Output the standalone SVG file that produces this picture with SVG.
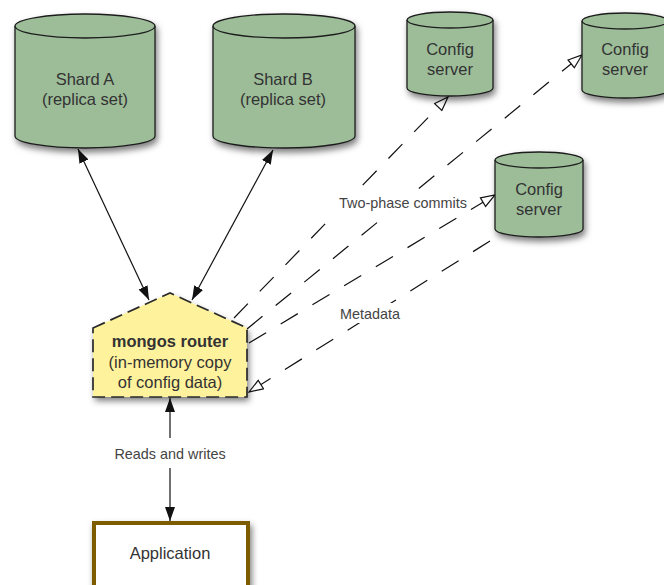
<svg xmlns="http://www.w3.org/2000/svg" width="664" height="585" viewBox="0 0 664 585">
  <style>
    .cyl { fill: #9dbd99; stroke: #1e1e1e; stroke-width: 1.3; }
    .rim { fill: none; stroke: #1e1e1e; stroke-width: 1.3; }
    .ntext { font-family: "Liberation Sans", Arial, sans-serif; font-size: 16.5px; fill: #333; text-anchor: middle; }
    .lbl { font-family: "Liberation Sans", Arial, sans-serif; font-size: 14.4px; fill: #444; text-anchor: middle; }
    .solid { stroke: #111; stroke-width: 1.2; fill: none; }
    .dash { stroke: #111; stroke-width: 1.2; fill: none; stroke-dasharray: 20 17; }
    .lblbg { fill: #fff; }
  </style>
  <defs>
    <filter id="shadow" x="-20%" y="-20%" width="150%" height="150%">
      <feDropShadow dx="2" dy="4" stdDeviation="3" flood-color="#000" flood-opacity="0.5"/>
    </filter>
    <marker id="solidHead" viewBox="0 0 14 10" refX="14" refY="5" markerWidth="14" markerHeight="10" markerUnits="userSpaceOnUse" orient="auto-start-reverse">
      <path d="M0,0 L14,5 L0,10 Z" fill="#111"/>
    </marker>
    <marker id="openHead" viewBox="0 0 16 12" refX="15" refY="6" markerWidth="16" markerHeight="12" markerUnits="userSpaceOnUse" orient="auto">
      <path d="M1,1 L15,6 L1,11 Z" fill="#fff" stroke="#111" stroke-width="1.2"/>
    </marker>
  </defs>

  <!-- connectors -->
  <g id="connectors">
    <!-- shards <-> router -->
    <line class="solid" x1="78" y1="149" x2="149" y2="300" marker-start="url(#solidHead)" marker-end="url(#solidHead)"/>
    <line class="solid" x1="273" y1="150" x2="192" y2="300" marker-start="url(#solidHead)" marker-end="url(#solidHead)"/>
    <!-- two-phase commits to config servers -->
    <line class="dash" x1="234" y1="318" x2="448" y2="97" marker-end="url(#openHead)"/>
    <line class="dash" x1="247" y1="329" x2="582" y2="55" marker-end="url(#openHead)"/>
    <line class="dash" x1="249" y1="343" x2="495" y2="195" marker-end="url(#openHead)"/>
    <!-- metadata back to router -->
    <line class="dash" x1="490" y1="241" x2="249" y2="392" marker-end="url(#openHead)"/>
    <!-- router <-> application -->
    <line class="solid" x1="170" y1="398" x2="170" y2="438" marker-start="url(#solidHead)"/>
    <line class="solid" x1="170" y1="468" x2="170" y2="521" marker-end="url(#solidHead)"/>
    <!-- labels -->
    <rect class="lblbg" x="336" y="192" width="134" height="20"/>
    <text class="lbl" x="403" y="208">Two-phase commits</text>
    <rect class="lblbg" x="337" y="303" width="66" height="20"/>
    <text class="lbl" x="370" y="319">Metadata</text>
    <text class="lbl" x="170" y="459">Reads and writes</text>
  </g>

  <!-- Shard A -->
  <g id="shardA">
    <path class="cyl" filter="url(#shadow)" d="M15,26 A70,12 0 0 1 155,26 L155,136 A70,12 0 0 1 15,136 Z"/>
    <path class="rim" d="M15,26 A70,12 0 0 0 155,26"/>
    <text class="ntext" x="85" y="85">Shard A</text>
    <text class="ntext" x="85" y="105">(replica set)</text>
  </g>

  <!-- Shard B -->
  <g id="shardB">
    <path class="cyl" filter="url(#shadow)" d="M213,26 A71,12 0 0 1 355,26 L355,136 A71,12 0 0 1 213,136 Z"/>
    <path class="rim" d="M213,26 A71,12 0 0 0 355,26"/>
    <text class="ntext" x="283" y="85">Shard B</text>
    <text class="ntext" x="283" y="105">(replica set)</text>
  </g>

  <!-- Config server 1 -->
  <g id="config1">
    <path class="cyl" filter="url(#shadow)" d="M407,20 A43,8 0 0 1 493,20 L493,88 A43,8 0 0 1 407,88 Z"/>
    <path class="rim" d="M407,20 A43,8 0 0 0 493,20"/>
    <text class="ntext" x="450" y="55">Config</text>
    <text class="ntext" x="450" y="75">server</text>
  </g>

  <!-- Config server 2 -->
  <g id="config2">
    <path class="cyl" filter="url(#shadow)" d="M582,21 A43,8 0 0 1 668,21 L668,90 A43,8 0 0 1 582,90 Z"/>
    <path class="rim" d="M582,21 A43,8 0 0 0 668,21"/>
    <text class="ntext" x="625" y="55">Config</text>
    <text class="ntext" x="625" y="75">server</text>
  </g>

  <!-- Config server 3 -->
  <g id="config3">
    <path class="cyl" filter="url(#shadow)" d="M495,160 A44,8 0 0 1 583,160 L583,229 A44,8 0 0 1 495,229 Z"/>
    <path class="rim" d="M495,160 A44,8 0 0 0 583,160"/>
    <text class="ntext" x="539" y="195">Config</text>
    <text class="ntext" x="539" y="215">server</text>
  </g>

  <!-- mongos router -->
  <g id="mongos">
    <path d="M93,328 L170,293 L247,328 L247,397 L93,397 Z" fill="#fff29c" filter="url(#shadow)"/>
    <path d="M93,328 L170,293 L247,328 L247,397 L93,397 Z" fill="none" stroke="#2a2a2a" stroke-width="1.7" stroke-dasharray="13 6"/>
    <text class="ntext" x="170" y="347" font-weight="bold" fill="#222">mongos router</text>
    <text class="ntext" x="170" y="368">(in-memory copy</text>
    <text class="ntext" x="170" y="388">of config data)</text>
  </g>

  <!-- Application -->
  <g id="application">
    <rect x="94" y="523" width="154" height="66" fill="#fff" stroke="#7d5c00" stroke-width="4" filter="url(#shadow)"/>
    <text class="ntext" x="170" y="559" font-size="15.5">Application</text>
  </g>
</svg>
